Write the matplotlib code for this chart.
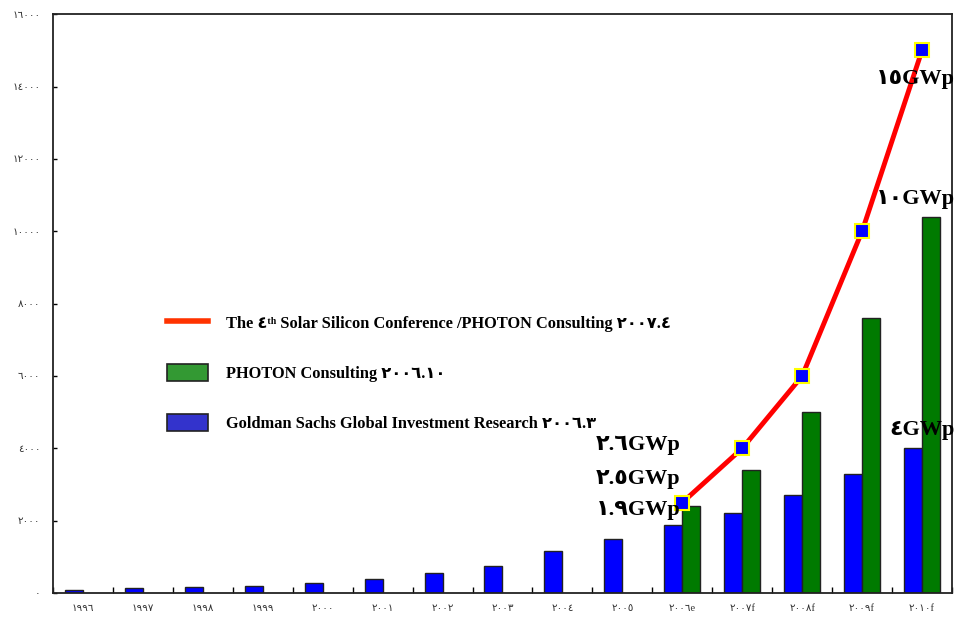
import numpy as np
import matplotlib
matplotlib.use("Agg")
import matplotlib.pyplot as plt
from matplotlib.lines import Line2D
from matplotlib.patches import Patch
from matplotlib.font_manager import FontProperties

plt.rcParams['font.family'] = ['Liberation Serif', 'DejaVu Sans']

# ---------data---------
years = ['١٩٩٦', '١٩٩٧', '١٩٩٨', '١٩٩٩', '٢٠٠٠', '٢٠٠١', '٢٠٠٢', '٢٠٠٣',
         '٢٠٠٤', '٢٠٠٥', '٢٠٠٦e', '٢٠٠٧f', '٢٠٠٨f', '٢٠٠٩f', '٢٠١٠f']
goldman = [89, 126, 155, 201, 288, 395, 560, 750, 1170, 1500,
           1880, 2200, 2700, 3300, 4000]
photon_years = ['٢٠٠٦e', '٢٠٠٧f', '٢٠٠٨f', '٢٠٠٩f', '٢٠١٠f']
photon = [2400, 3400, 5000, 7600, 10400]
conf = [2500, 4000, 6000, 10000, 15000]
yticks = [0, 2000, 4000, 6000, 8000, 10000, 12000, 14000, 16000]
ytick_labels = ['٠', '٢٠٠٠', '٤٠٠٠', '٦٠٠٠', '٨٠٠٠', '١٠٠٠٠', '١٢٠٠٠', '١٤٠٠٠', '١٦٠٠٠']

lbl_goldman = 'Goldman Sachs Global Investment Research ٢٠٠٦.٣'
lbl_photon = 'PHOTON Consulting ٢٠٠٦.١٠'
lbl_conf = 'The ٤ᵗʰ Solar Silicon Conference /PHOTON Consulting ٢٠٠٧.٤'

# notes next to the last and the first forecast year
notes_right = [('١٥GWp', 14200), ('١٠GWp', 10900), ('٤GWp', 4500)]
notes_left = [('٢.٦GWp', 4100), ('٢.٥GWp', 3150), ('١.٩GWp', 2300)]

# ---------plot---------
fig = plt.figure(figsize=(9.56, 6.2), dpi=100)
ax = fig.add_axes([0.0554, 0.0435, 0.9404, 0.9335])

x = np.arange(len(years))
px = np.array([years.index(y) for y in photon_years])
w = 0.3

ax.bar(x - w/2, goldman, w, color='#0000FF', edgecolor='#222222', linewidth=1, zorder=2)
ax.bar(px + w/2, photon, w, color='#007A00', edgecolor='#222222', linewidth=1, zorder=2)
ax.plot(px, conf, color='#FF0000', linewidth=3.5, zorder=3,
        marker='s', markersize=10, markerfacecolor='#0000FF',
        markeredgecolor='#FFFF00', markeredgewidth=1.5)

bold = dict(fontweight='bold', family=['Liberation Serif', 'DejaVu Sans'])
for txt, val in notes_right:
    ax.text(px[-1] + 0.55, val, txt, ha='right', va='center',
            fontsize=16, zorder=4, clip_on=False, **bold)
for txt, val in notes_left:
    ax.text(px[0] - 0.03, val, txt, ha='right', va='center',
            fontsize=16, zorder=4, clip_on=False, **bold)

ax.set_xlim(-0.5, len(years) - 0.5)
ax.set_ylim(0, 16000)
ax.set_yticks(yticks)
ax.set_yticklabels(ytick_labels, fontsize=7.5, color='#333333')
ax.set_xticks(np.arange(len(years) + 1) - 0.5)
ax.set_xticklabels([])
ax.set_xticks(x, minor=True)
ax.set_xticklabels(years, minor=True, fontsize=7.5, color='#333333')
ax.tick_params(axis='x', which='major', direction='in', length=4, width=1)
ax.tick_params(axis='x', which='minor', length=0, pad=8)
ax.tick_params(axis='y', direction='in', length=3, width=1, pad=9)
for s in ax.spines.values():
    s.set_linewidth(1.3)
    s.set_color('#222222')

handles = [Line2D([], [], color='#FF3300', linewidth=4),
           Patch(facecolor='#339933', edgecolor='#222222', linewidth=1.2),
           Patch(facecolor='#3333CC', edgecolor='#222222', linewidth=1.2)]
prop = FontProperties(family=['Liberation Serif', 'DejaVu Sans'], weight='bold', size=11.8)
ax.legend(handles, [lbl_conf, lbl_photon, lbl_goldman], prop=prop, frameon=False,
          loc='upper left', bbox_to_anchor=(0.127, 0.482), borderpad=0, borderaxespad=0,
          handlelength=2.5, handleheight=1.2, handletextpad=1.1, labelspacing=1.95)

fig.savefig('out.png', dpi=100)
